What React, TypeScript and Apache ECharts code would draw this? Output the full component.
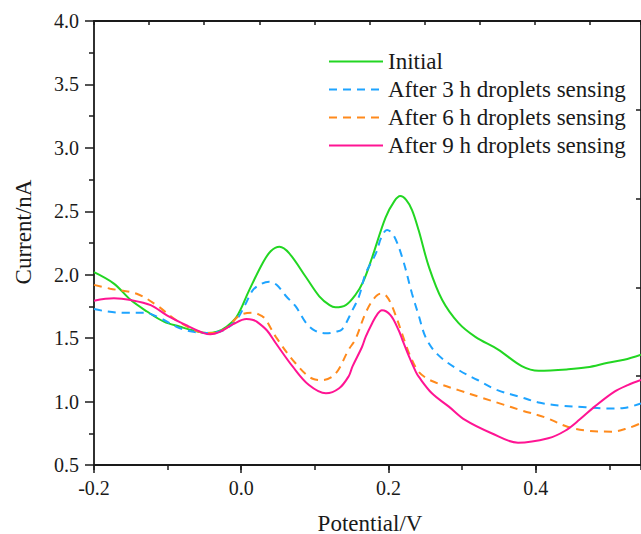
import React, { useEffect, useRef } from "react";
import * as echarts from "echarts";

// Potential (V) / Current (nA) pairs
const initialData: [number, number][] = [
  [-0.2, 2.02], [-0.173, 1.93], [-0.15, 1.8], [-0.128, 1.71], [-0.105, 1.63], [-0.083, 1.59],
  [-0.065, 1.56], [-0.047, 1.54], [-0.033, 1.55], [-0.02, 1.59], [-0.006, 1.67], [0.011, 1.88],
  [0.029, 2.09], [0.04, 2.185], [0.052, 2.22], [0.065, 2.17], [0.088, 1.98],
  [0.106, 1.83], [0.12, 1.76], [0.128, 1.743], [0.142, 1.76], [0.155, 1.84], [0.166, 1.95],
  [0.178, 2.14], [0.196, 2.45], [0.208, 2.58], [0.216, 2.62], [0.224, 2.59], [0.232, 2.51],
  [0.241, 2.35], [0.255, 2.06], [0.273, 1.8], [0.295, 1.62], [0.318, 1.51], [0.349, 1.41],
  [0.381, 1.28], [0.404, 1.243], [0.444, 1.254], [0.47, 1.27], [0.498, 1.306], [0.52, 1.33],
  [0.543, 1.37],
];

const after3hData: [number, number][] = [
  [-0.2, 1.73], [-0.182, 1.71], [-0.159, 1.7], [-0.132, 1.7], [-0.111, 1.66], [-0.084, 1.58],
  [-0.065, 1.55], [-0.048, 1.54], [-0.025, 1.56], [-0.007, 1.64], [0.005, 1.76], [0.016, 1.88],
  [0.028, 1.93], [0.038, 1.945], [0.048, 1.92], [0.061, 1.83], [0.074, 1.75], [0.088, 1.62],
  [0.1, 1.56], [0.115, 1.538], [0.128, 1.55], [0.137, 1.57], [0.151, 1.72], [0.16, 1.83],
  [0.169, 2.01], [0.183, 2.17], [0.19, 2.29], [0.198, 2.353], [0.207, 2.31], [0.219, 2.13],
  [0.232, 1.85], [0.241, 1.68], [0.251, 1.5], [0.267, 1.37], [0.295, 1.25], [0.321, 1.17],
  [0.348, 1.09], [0.377, 1.04], [0.406, 0.99], [0.436, 0.967], [0.468, 0.955], [0.498, 0.945],
  [0.52, 0.95], [0.543, 0.985],
];

const after6hData: [number, number][] = [
  [-0.2, 1.92], [-0.178, 1.89], [-0.142, 1.85], [-0.115, 1.76], [-0.088, 1.64], [-0.057, 1.55],
  [-0.04, 1.54], [-0.02, 1.58], [-0.002, 1.68], [0.016, 1.7], [0.029, 1.67], [0.034, 1.64],
  [0.047, 1.51], [0.074, 1.3], [0.097, 1.18], [0.11, 1.17], [0.128, 1.22], [0.146, 1.41],
  [0.155, 1.49], [0.169, 1.7], [0.18, 1.81], [0.189, 1.85], [0.196, 1.84], [0.205, 1.75],
  [0.223, 1.46], [0.228, 1.38], [0.239, 1.25], [0.25, 1.19], [0.264, 1.15], [0.295, 1.09],
  [0.327, 1.03], [0.354, 0.98], [0.381, 0.93], [0.413, 0.875], [0.444, 0.8], [0.471, 0.77],
  [0.503, 0.763], [0.525, 0.79], [0.543, 0.83],
];

const after9hData: [number, number][] = [
  [-0.2, 1.795], [-0.173, 1.814], [-0.15, 1.8], [-0.123, 1.76], [-0.101, 1.68], [-0.074, 1.6],
  [-0.051, 1.54], [-0.042, 1.53], [-0.029, 1.55], [-0.011, 1.61], [0.007, 1.65], [0.015, 1.645],
  [0.021, 1.63], [0.035, 1.56], [0.047, 1.46], [0.07, 1.275], [0.092, 1.13], [0.115, 1.065],
  [0.133, 1.105], [0.146, 1.2], [0.151, 1.275], [0.164, 1.43], [0.169, 1.51], [0.178, 1.62],
  [0.185, 1.69], [0.191, 1.72], [0.203, 1.68], [0.214, 1.56], [0.219, 1.485], [0.228, 1.354],
  [0.237, 1.236], [0.241, 1.196], [0.259, 1.065], [0.282, 0.96], [0.304, 0.855], [0.34, 0.75],
  [0.376, 0.676], [0.417, 0.711], [0.44, 0.77], [0.46, 0.86], [0.48, 0.96],
  [0.507, 1.078], [0.525, 1.13], [0.543, 1.17],
];

const seriesNames = [
  "Initial",
  "After 3 h droplets sensing",
  "After 6 h droplets sensing",
  "After 9 h droplets sensing",
];
const seriesColors = ["#22d622", "#1ea4ff", "#ff8a1c", "#ff1493"];
const seriesDashed = [false, true, true, false];
const seriesData = [initialData, after3hData, after6hData, after9hData];

const xMin = -0.2;
const xMax = 0.543;
const yMin = 0.5;
const yMax = 4.0;

const FONT = "Liberation Serif, Times New Roman, serif";
const INK = "#1a1a1a";

export default function App() {
  const ref = useRef<HTMLDivElement>(null);

  useEffect(() => {
    if (!ref.current) return;
    const chart = echarts.init(ref.current, undefined, { renderer: "svg" });
    const axisLine = { show: true, onZero: false, lineStyle: { color: INK, width: 1.8 } };
    const fmt = (v: number) => (Math.abs(v) < 1e-9 ? "0.0" : v.toFixed(1));

    chart.setOption({
      animation: false,
      backgroundColor: "#ffffff",
      textStyle: { fontFamily: FONT },
      grid: { left: 94, top: 21, right: -2, bottom: 69, containLabel: false },
      xAxis: [
        {
          type: "value",
          position: "bottom",
          min: xMin,
          max: xMax,
          interval: 0.2,
          axisLine,
          axisTick: { show: true, inside: false, length: 8, lineStyle: { color: INK, width: 1.5 } },
          axisLabel: {
            show: true,
            margin: 13,
            color: INK,
            fontFamily: FONT,
            fontSize: 20,
            formatter: (v: number) => (v > 0.5 ? "" : fmt(v)),
            showMaxLabel: false,
          },
          splitLine: { show: false },
        },
        {
          type: "value",
          position: "bottom",
          min: xMin,
          max: xMax,
          interval: 0.1,
          axisLine: { show: false, onZero: false },
          axisTick: { show: true, inside: false, length: 5, lineStyle: { color: INK, width: 1.5 } },
          axisLabel: { show: false },
          splitLine: { show: false },
        },
        {
          type: "value",
          position: "top",
          min: 0,
          max: 9.93,
          interval: 1,
          axisLine,
          axisTick: { show: true, inside: true, length: 4, lineStyle: { color: INK, width: 1.5 } },
          axisLabel: { show: false },
          splitLine: { show: false },
        },
      ],
      yAxis: [
        {
          type: "value",
          position: "left",
          min: yMin,
          max: yMax,
          interval: 0.5,
          axisLine,
          axisTick: { show: true, inside: false, length: 9, lineStyle: { color: INK, width: 1.5 } },
          minorTick: { show: true, splitNumber: 2, length: 5, lineStyle: { color: INK, width: 1.5 } },
          axisLabel: {
            show: true,
            margin: 15,
            color: INK,
            fontFamily: FONT,
            fontSize: 20,
            formatter: (v: number) => v.toFixed(1),
          },
          splitLine: { show: false },
          minorSplitLine: { show: false },
        },
        {
          type: "value",
          position: "right",
          min: 0,
          max: 5,
          interval: 1,
          axisLine,
          axisTick: { show: true, inside: true, length: 5, lineStyle: { color: INK, width: 1.5 } },
          axisLabel: { show: false },
          splitLine: { show: false },
        },
      ],
      legend: {
        show: true,
        orient: "vertical",
        left: 323,
        top: 45,
        itemWidth: 54,
        itemHeight: 14,
        itemGap: 5,
        data: seriesNames,
        itemStyle: { opacity: 0 },
        textStyle: { color: INK, fontFamily: FONT, fontSize: 23, lineHeight: 23 },
      },
      graphic: [
        {
          type: "text",
          x: 23,
          y: 232,
          rotation: Math.PI / 2,
          style: {
            text: "Current/nA",
            fill: INK,
            fontFamily: FONT,
            fontSize: 23,
            textAlign: "center",
            textVerticalAlign: "middle",
          },
        },
        {
          type: "text",
          x: 370,
          y: 523,
          style: {
            text: "Potential/V",
            fill: INK,
            fontFamily: FONT,
            fontSize: 23,
            textAlign: "center",
            textVerticalAlign: "middle",
          },
        },
      ],
      series: seriesNames.map((name, i) => ({
        name,
        type: "line",
        xAxisIndex: 0,
        yAxisIndex: 0,
        data: seriesData[i],
        smooth: 0.35,
        showSymbol: false,
        symbol: "none",
        clip: true,
        color: seriesColors[i],
        lineStyle: {
          color: seriesColors[i],
          width: 2,
          type: seriesDashed[i] ? [8, 6] : "solid",
        },
      })),
    });

    return () => chart.dispose();
  }, []);

  return (
    <div
      ref={ref}
      style={{ position: "absolute", left: 0, top: 0, width: 641, height: 534, background: "#fff" }}
    />
  );
}
